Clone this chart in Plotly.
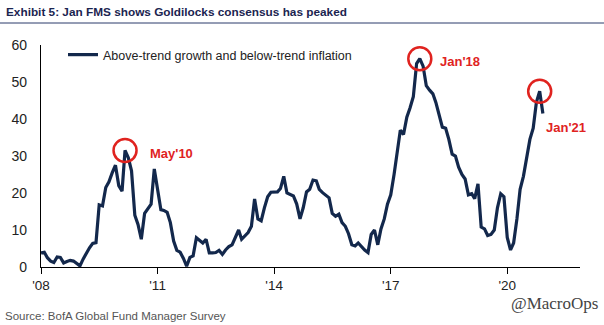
import pandas as pd
import plotly.graph_objects as go

# ---- data (monthly) ----
start_month = "2008-01-01"
values = [
    3.8, 4.0, 2.5, 1.6, 1.2, 2.7, 2.6, 1.1, 1.5, 1.8, 1.6, 1.0,          # 2008
    0.3, 2.2, 3.8, 5.2, 6.4, 6.6, 16.8, 16.5, 21.5, 23.0, 25.5, 27.5,    # 2009
    22.0, 20.5, 31.5, 29.5, 26.0, 14.0, 11.5, 7.5, 14.5, 15.8, 17.0, 26.5,  # 2010
    21.5, 15.5, 15.3, 14.8, 12.0, 7.0, 4.5, 4.0, 2.3, 0.2, 2.6, 3.0,     # 2011
    7.9, 7.2, 6.5, 7.5, 3.8, 3.8, 3.9, 4.5, 3.4, 4.6, 5.5, 6.0,          # 2012
    7.8, 10.0, 7.5, 8.5, 9.3, 11.0, 18.4, 13.0, 12.5, 16.0, 19.0, 20.2,  # 2013
    20.3, 20.3, 21.2, 24.5, 20.0, 19.6, 19.2, 17.0, 13.0, 16.0, 20.3, 21.0,  # 2014
    23.5, 23.3, 21.0, 20.1, 19.4, 18.7, 14.5, 13.7, 14.3, 12.0, 11.0, 9.0,   # 2015
    6.0, 5.7, 6.5, 5.5, 4.6, 3.9, 8.8, 10.0, 6.0, 10.3, 13.0, 17.0,      # 2016
    19.5, 25.0, 31.5, 37.0, 35.8, 40.5, 43.0, 46.0, 55.0, 56.3, 54.3, 49.0,  # 2017
    47.8, 46.8, 44.5, 41.0, 37.8, 37.5, 34.5, 30.5, 30.0, 27.0, 25.0, 23.8,  # 2018
    19.5, 19.8, 18.5, 22.5, 10.8, 10.3, 8.5, 8.8, 10.0, 16.0, 19.8, 19.0,    # 2019
    8.0, 4.6, 6.5, 13.0, 21.0, 24.5, 29.5, 34.5, 37.5, 44.5, 47.5, 41.5,     # 2020
]
series_name = "Above-trend growth and below-trend inflation"
dates = pd.date_range(start_month, periods=len(values), freq="MS")

peak_idx = [26, 117, 154]
peak_labels = ["May'10", "Jan'18", "Jan'21"]

tick_dates = ["2008-01-01", "2011-01-01", "2014-01-01", "2017-01-01", "2020-01-01"]
tick_text = ["'08", "'11", "'14", "'17", "'20"]
y_ticks = [0, 10, 20, 30, 40, 50, 60]

NAVY = "#13284c"
RED = "#e0231f"

fig = go.Figure()
fig.add_trace(go.Scatter(
    x=dates, y=values, mode="lines", name=series_name,
    line=dict(color=NAVY, width=3.2),
))
fig.add_trace(go.Scatter(
    x=[dates[i] for i in peak_idx], y=[values[i] for i in peak_idx],
    mode="markers", showlegend=False, hoverinfo="skip",
    marker=dict(symbol="circle-open", size=23, color=RED, line=dict(color=RED, width=2.5)),
))

# plot area in pixels: x 41..580, y 45..267
L, R, T, B = 41, 580, 45, 267
W, H = 604, 325
def px(x):
    return (x - L) / (R - L)
def py(y):
    return (B - y) / (B - T)

fig.update_layout(
    width=W, height=H,
    margin=dict(l=L, r=W - R, t=T, b=H - B, pad=0),
    paper_bgcolor="white", plot_bgcolor="white",
    showlegend=True,
    legend=dict(x=px(63), y=py(40), xanchor="left", yanchor="top",
                bgcolor="rgba(0,0,0,0)",
                font=dict(family="Liberation Sans, Arial, sans-serif", size=12.5, color="#222222")),
    font=dict(family="Liberation Sans, Arial, sans-serif", color="#222222"),
)
fig.update_xaxes(
    type="date", range=["2008-01-01", "2021-11-15"],
    tickvals=tick_dates, ticktext=tick_text,
    ticks="outside", ticklen=6, tickwidth=1, tickcolor="#000000",
    showline=True, linecolor="#000000", linewidth=1.2,
    showgrid=False, zeroline=False,
    tickfont=dict(size=13.5, color="#222222"),
    ticklabelstandoff=0,
)
fig.update_yaxes(
    range=[0, 60], tickvals=y_ticks,
    showline=True, linecolor="#000000", linewidth=1.2,
    showgrid=False, zeroline=False, ticks="",
    tickfont=dict(size=14, color="#222222"),
    ticklabelstandoff=10,
)

annos = [
    dict(text="<b>Exhibit 5: Jan FMS shows Goldilocks consensus has peaked</b>",
         x=px(4), y=py(12), xanchor="left", yanchor="middle",
         font=dict(family="Liberation Sans, Arial, sans-serif", size=11.8, color="#1b2450")),
    dict(text="Source: BofA Global Fund Manager Survey",
         x=px(3), y=py(316), xanchor="left", yanchor="middle",
         font=dict(family="Liberation Sans, sans-serif", size=11.5, color="#555555")),
    dict(text="@MacroOps",
         x=px(600), y=py(303), xanchor="right", yanchor="middle",
         font=dict(family="Liberation Serif, Times New Roman, serif", size=17, color="#444444")),
]
label_pos = [(148, 153), (438, 61), (544, 127)]
for (lx, ly), t in zip(label_pos, peak_labels):
    annos.append(dict(text=f"<b>{t}</b>", x=px(lx), y=py(ly), xanchor="left", yanchor="middle",
                      font=dict(family="Liberation Sans, Arial, sans-serif", size=13, color=RED)))
for a in annos:
    a.update(xref="paper", yref="paper", showarrow=False)
fig.update_layout(annotations=annos)

fig.add_shape(type="line", xref="paper", yref="paper",
              x0=px(0), x1=px(604), y0=py(23), y1=py(23),
              line=dict(color="#2a3a6a", width=1))

fig.write_html("out.html")
